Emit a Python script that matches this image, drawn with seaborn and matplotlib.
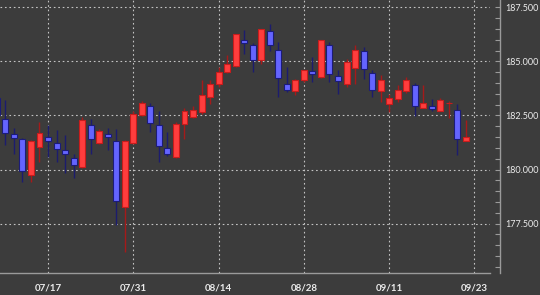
import matplotlib
matplotlib.use("Agg")
import numpy as np
import pandas as pd
import seaborn as sns
import matplotlib.pyplot as plt
from matplotlib.ticker import MultipleLocator, FixedLocator, FormatStrFormatter

# ---------------- data ----------------
dates = ["07/07",
         "07/10", "07/11", "07/12", "07/13", "07/14",
         "07/17", "07/18", "07/19", "07/20", "07/21",
         "07/24", "07/25", "07/26", "07/27", "07/28",
         "07/31", "08/01", "08/02", "08/03", "08/04",
         "08/07", "08/08", "08/09", "08/10", "08/11",
         "08/14", "08/15", "08/16", "08/17", "08/18",
         "08/21", "08/22", "08/23", "08/24", "08/25",
         "08/28", "08/29", "08/30", "08/31", "09/01",
         "09/04", "09/05", "09/06", "09/07", "09/08",
         "09/11", "09/12", "09/13", "09/14", "09/15",
         "09/18", "09/19", "09/20", "09/21", "09/22"]

opens = [183.33,
         182.35, 181.66, 181.41, 179.74, 181.04,
         181.51, 181.25, 180.89, 180.54, 180.12,
         182.08, 181.25, 181.66, 181.32, 178.27,
         181.23, 182.54, 182.92, 182.08, 181.00,
         180.58, 182.09, 182.43, 182.66, 183.35,
         183.97, 184.51, 184.77, 185.97, 185.74,
         185.05, 186.39, 185.54, 183.94, 183.61,
         184.12, 184.54, 184.28, 185.78, 184.31,
         183.97, 184.71, 185.48, 184.48, 183.63,
         183.05, 183.25, 183.61, 183.89, 182.84,
         182.94, 182.71, 183.06, 182.77, 181.32]

highs = [183.50,
         183.20, 181.94, 181.45, 181.35, 182.20,
         182.05, 181.81, 181.58, 180.74, 182.43,
         182.35, 181.86, 181.92, 181.89, 181.35,
         182.69, 183.15, 183.07, 182.71, 181.74,
         182.18, 182.86, 182.92, 184.12, 184.12,
         184.74, 185.28, 186.29, 186.43, 185.85,
         186.52, 186.71, 185.89, 184.74, 184.17,
         184.62, 185.20, 186.00, 185.88, 184.60,
         185.12, 185.74, 185.66, 184.62, 184.35,
         183.51, 183.89, 184.28, 184.00, 183.89,
         183.28, 183.32, 183.18, 183.01, 182.31]

lows = [182.30,
        181.12, 180.74, 179.43, 179.43, 180.35,
        180.58, 180.35, 179.82, 179.63, 180.05,
        180.74, 181.17, 180.89, 177.43, 176.20,
        181.17, 182.46, 181.74, 180.35, 180.63,
        180.52, 181.43, 182.37, 182.59, 183.05,
        183.80, 184.45, 184.72, 185.36, 184.51,
        184.89, 185.50, 183.35, 183.58, 183.43,
        184.07, 184.04, 184.22, 184.04, 183.51,
        183.81, 183.97, 184.20, 183.35, 183.12,
        182.66, 183.12, 183.52, 182.46, 182.83,
        182.71, 182.69, 182.40, 180.66, 181.31]

closes = [182.50,
          181.69, 181.48, 179.92, 181.31, 181.69,
          181.31, 180.94, 180.74, 180.20, 182.28,
          181.40, 181.78, 181.51, 178.55, 181.32,
          182.59, 183.09, 182.15, 181.08, 180.74,
          182.12, 182.71, 182.77, 183.43, 183.97,
          184.51, 184.89, 186.25, 185.85, 185.08,
          186.51, 185.74, 184.23, 183.69, 184.12,
          184.58, 184.40, 185.97, 184.43, 184.09,
          184.97, 185.55, 184.63, 183.66, 184.12,
          183.31, 183.69, 184.12, 182.92, 183.07,
          182.78, 183.20, 183.10, 181.39, 181.51]

tick_labels = ["07/17", "07/31", "08/14", "08/28", "09/11", "09/23"]

# ---------------- style ----------------
BG = "#3c3c3c"
GRID = "#c4c4c4"
AXIS = "#9a9a9a"
TXT = "#ececec"
RED = "#ff3d3d"
RED_EDGE = "#c81c1c"
RED_WICK = "#a51a1a"
BLUE = "#6464ff"
BLUE_EDGE = "#1c1c78"
BLUE_WICK = "#1c1c6e"

sns.set_theme(style="dark", rc={"axes.facecolor": BG, "figure.facecolor": BG,
                                "axes.edgecolor": AXIS, "text.color": TXT,
                                "xtick.color": AXIS, "ytick.color": AXIS})
plt.rcParams["font.family"] = ["Lato", "DejaVu Sans"]

df = pd.DataFrame({"date": dates, "open": opens, "high": highs,
                   "low": lows, "close": closes})
df["pos"] = np.arange(len(df))
df["up"] = df["close"] >= df["open"]
df["bottom"] = df[["open", "close"]].min(axis=1)
df["height"] = (df["close"] - df["open"]).abs()

fig = plt.figure(figsize=(5.4, 2.95), dpi=100)
fig.patch.set_facecolor(BG)
ax = fig.add_axes([0.0, 22.3 / 295, 490 / 540, 272.7 / 295])
ax.set_facecolor(BG)

for is_up, fc, ec, wc in [(True, RED, RED_EDGE, RED_WICK),
                          (False, BLUE, BLUE_EDGE, BLUE_WICK)]:
    sub = df[df["up"] == is_up]
    ax.vlines(sub["pos"], sub["low"], sub["high"], color=wc, lw=1.0, zorder=2)
    ax.bar(sub["pos"], sub["height"], bottom=sub["bottom"], width=0.7,
           color=fc, edgecolor=ec, linewidth=0.8, zorder=3)

ax.set_xlim(0.37, 57.82)
ax.set_ylim(175.23, 187.84)

# axes / spines
sns.despine(ax=ax, left=True, top=True, right=False, bottom=False)
ax.spines["right"].set_position(("outward", 7.5))
ax.spines["right"].set_color(AXIS)
ax.spines["bottom"].set_color(AXIS)
ax.spines["right"].set_linewidth(1.0)
ax.spines["bottom"].set_linewidth(1.0)

ax.yaxis.tick_right()
ax.yaxis.set_major_locator(MultipleLocator(2.5))
ax.yaxis.set_minor_locator(MultipleLocator(0.5))
ax.yaxis.set_major_formatter(FormatStrFormatter("%.3f"))
ax.tick_params(axis="y", which="both", direction="in", length=3.5, width=0.8,
               color=AXIS, labelcolor=TXT, labelsize=6.5, pad=3.5,
               left=False, right=True)

date_index = {d: i for i, d in enumerate(dates)}
tick_pos = [date_index.get(lbl, len(dates)) for lbl in tick_labels]
ax.xaxis.set_major_locator(FixedLocator(tick_pos))
ax.set_xticklabels(tick_labels, fontweight="bold")
ax.xaxis.set_minor_locator(MultipleLocator(2))
ax.tick_params(axis="x", which="major", direction="out", length=5, width=0.8,
               color=AXIS, labelcolor=TXT, labelsize=7, pad=2.5)
ax.tick_params(axis="x", which="minor", direction="out", length=3, width=0.8,
               color=AXIS)

ax.grid(True, which="major", axis="both", color=GRID,
        linestyle=(0, (1.5, 2.5)), linewidth=0.8, zorder=1)
ax.set_axisbelow(True)
ax.set_xlabel("")
ax.set_ylabel("")

fig.savefig("out.png", dpi=100, facecolor=BG)
